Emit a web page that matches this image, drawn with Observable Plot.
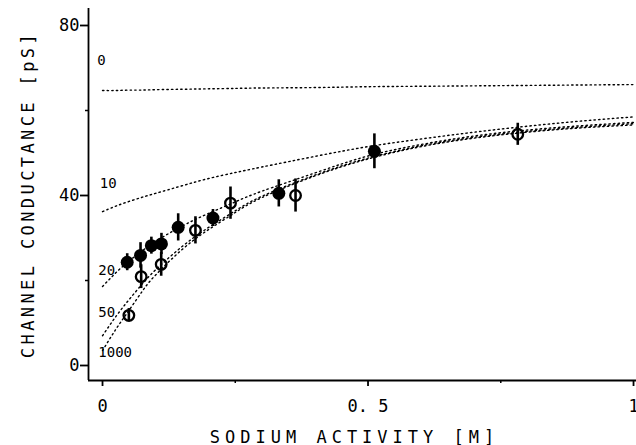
<!DOCTYPE html>
<html>
<head>
<meta charset="utf-8">
<script src="https://cdn.jsdelivr.net/npm/d3@7"></script>
<script src="https://cdn.jsdelivr.net/npm/@observablehq/plot@0.6"></script>
<style>
  html, body { margin: 0; padding: 0; background: #fff; }
  svg { display: block; }
</style>
</head>
<body>
<div id="chart"></div>
<script>
// Model curves, x = sodium activity [M]
const curveX = [0, 0.025, 0.05, 0.075, 0.1, 0.15, 0.2, 0.25, 0.3, 0.4, 0.5, 0.6, 0.7, 0.8, 0.9, 1.0];
const curve0    = [64.7, 64.7, 64.8, 64.8, 64.9, 65.0, 65.1, 65.2, 65.3, 65.4, 65.6, 65.7, 65.8, 65.9, 66.0, 66.1];
const curve10   = [36.2, 37.5, 38.6, 39.6, 40.5, 42.3, 44.0, 45.4, 46.7, 49.2, 51.5, 53.3, 54.9, 56.3, 57.5, 58.5];
const curve20   = [18.6, 21.8, 24.6, 27.0, 29.2, 32.8, 35.8, 38.5, 41.0, 45.3, 49.3, 52.0, 54.0, 55.4, 56.4, 57.2];
const curve50   = [7.0, 11.5, 15.5, 19.2, 22.5, 28.0, 32.5, 36.4, 39.8, 44.8, 48.8, 51.7, 53.7, 55.1, 56.1, 56.9];
const curve1000 = [3.5, 8.5, 13.0, 17.5, 21.3, 27.3, 32.0, 36.0, 39.5, 44.6, 48.6, 51.5, 53.5, 54.9, 55.9, 56.6];
const curveNames = ["0", "10", "20", "50", "1000"];
const curveLabelX = [-0.01, -0.005, -0.008, -0.008, -0.008];
const curveLabelY = [71.8, 42.8, 22.4, 12.5, 3.1];

// Measured points
const filledX   = [0.0465, 0.0716, 0.092, 0.111, 0.1425, 0.208, 0.332, 0.512];
const filledY   = [24.3, 25.9, 28.2, 28.6, 32.5, 34.7, 40.5, 50.4];
const filledErr = [2.0, 3.0, 2.0, 2.5, 3.2, 2.0, 3.2, 4.1];
const openX     = [0.0496, 0.0728, 0.1105, 0.175, 0.241, 0.3635, 0.782];
const openY     = [11.8, 20.9, 23.8, 31.8, 38.2, 40.0, 54.4];
const openErr   = [1.6, 2.8, 2.8, 3.2, 3.8, 3.9, 2.6];

const yMajor = [0, 40, 80];
const yMinor = [20, 60];
const xMajor = [0, 0.5, 1];
const xMajorLabels = ["0", "0. 5", "1"];
const xMinor = [0.25, 0.75];

const xDomain = [-0.0264, 1.0056];
const yDomain = [-3.53, 84];

const curves = [curve0, curve10, curve20, curve50, curve1000];
const curveData = curves.flatMap((c, i) => c.map((v, j) => ({name: curveNames[i], x: curveX[j], y: v})));
const filled = filledX.map((x, i) => ({x, y: filledY[i], e: filledErr[i]}));
const open = openX.map((x, i) => ({x, y: openY[i], e: openErr[i]}));
const labels = curveNames.map((n, i) => ({n, x: curveLabelX[i], y: curveLabelY[i]}));

const font = "'DejaVu Sans Mono', monospace";

const chart = Plot.plot({
  width: 636,
  height: 445,
  marginLeft: 88,
  marginRight: 0,
  marginTop: 8,
  marginBottom: 65,
  style: {fontFamily: font, background: "#fff", color: "#000"},
  x: {domain: xDomain},
  y: {domain: yDomain},
  marks: [
    // axis lines
    Plot.ruleX([xDomain[0]], {y1: yDomain[0], y2: yDomain[1], stroke: "#000", strokeWidth: 1.8}),
    Plot.ruleY([yDomain[0]], {x1: xDomain[0], x2: xDomain[1], stroke: "#000", strokeWidth: 1.8}),
    // y axis ticks
    Plot.axisY({ticks: yMajor, tickSize: 8, tickPadding: 1, strokeWidth: 1.8, fontSize: 17, label: null, tickFormat: d => String(d)}),
    Plot.axisY({ticks: yMinor, tickSize: 3, strokeWidth: 1.5, text: null, label: null}),
    // x axis ticks
    Plot.axisX({ticks: xMajor, tickSize: 6, tickPadding: 13, strokeWidth: 1.8, fontSize: 17, label: null,
      tickFormat: d => xMajorLabels[xMajor.indexOf(d)]}),
    Plot.axisX({ticks: xMinor, tickSize: 3, strokeWidth: 1.5, text: null, label: null}),
    // model curves
    Plot.line(curveData, {x: "x", y: "y", z: "name", curve: "natural", stroke: "#000",
      strokeWidth: 1.4, strokeDasharray: "1.4,3.2", strokeLinecap: "round"}),
    // curve labels
    Plot.text(labels, {x: "x", y: "y", text: "n", textAnchor: "start", fontSize: 14, fill: "#000"}),
    // error bars
    Plot.ruleX(filled, {x: "x", y1: d => d.y - d.e, y2: d => d.y + d.e, stroke: "#000", strokeWidth: 2.6}),
    Plot.ruleX(open, {x: "x", y1: d => d.y - d.e, y2: d => d.y + d.e, stroke: "#000", strokeWidth: 2.6}),
    // points
    Plot.dot(filled, {x: "x", y: "y", r: 6.5, fill: "#000", stroke: "none"}),
    Plot.dot(open, {x: "x", y: "y", r: 5.3, fill: "none", stroke: "#000", strokeWidth: 2.3}),
    // axis titles
    Plot.text(["CHANNEL CONDUCTANCE [pS]"], {frameAnchor: "left", dx: -60, rotate: -90, fontSize: 17,
      fill: "#000", text: d => d, textAnchor: "middle"}),
    Plot.text(["SODIUM ACTIVITY [M]"], {frameAnchor: "bottom", dy: 62, dx: -8, fontSize: 17,
      fill: "#000", text: d => d, textAnchor: "middle"})
  ]
});

// letter spacing for axis titles (plotter style)
d3.select(chart).selectAll("text").filter(function() {
  const t = this.textContent;
  return t === "CHANNEL CONDUCTANCE [pS]" || t === "SODIUM ACTIVITY [M]";
}).attr("letter-spacing", function() { return this.textContent.startsWith("CH") ? "3.4px" : "5px"; });

document.getElementById("chart").appendChild(chart);
</script>
</body>
</html>
